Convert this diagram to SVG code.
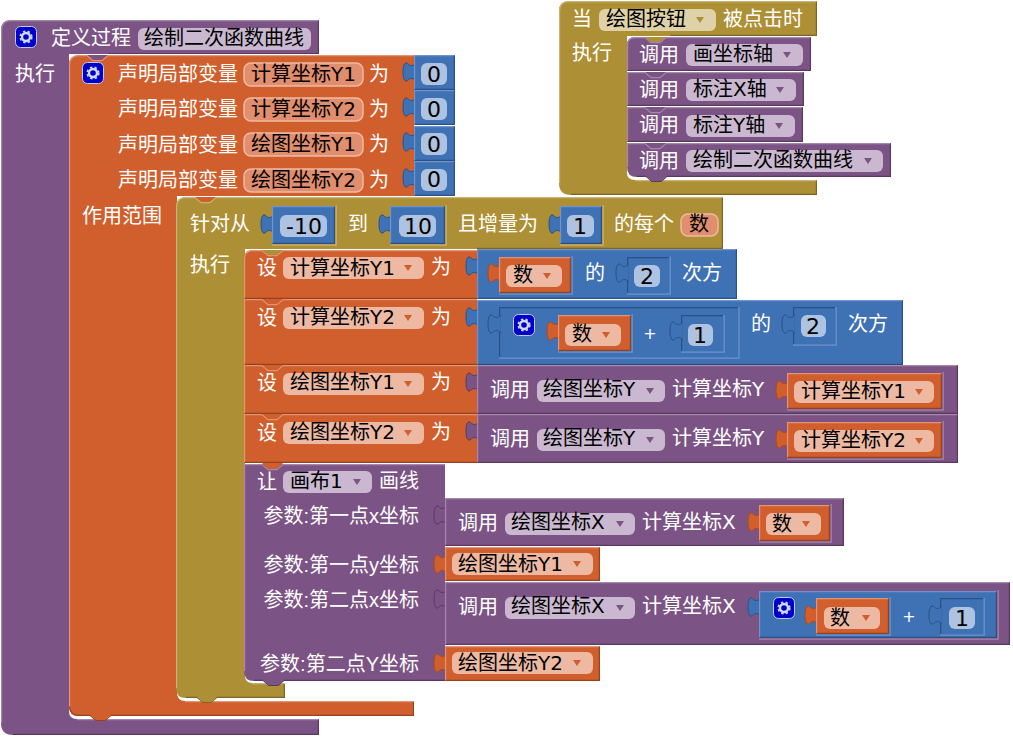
<svg xmlns="http://www.w3.org/2000/svg" width="1013" height="737" viewBox="0 0 1013 737">
<style>
text{font-family:"DejaVu Sans","Noto Sans CJK SC",sans-serif;font-size:20px}
.w{fill:#fff}.k{fill:#000}.e{text-anchor:end;font-family:"Liberation Sans","Noto Sans CJK SC",sans-serif}.c{text-anchor:middle}.n{font-size:22px}
.P{fill:#7C5385}.O{fill:#D05F2D}.G{fill:#AD8F35}.B{fill:#3F71B5}
.Pl,.Ol,.Gl,.Bl,.Pd,.Od,.Gd,.Bd{fill:none;stroke-width:1.2}
.Pl{stroke:#A488AC}.Ol{stroke:#E49273}.Gl{stroke:#C9B273}.Bl{stroke:#6F94CC}
.Pd{stroke:#59395F}.Od{stroke:#96421E}.Gd{stroke:#7D6625}.Bd{stroke:#2C5085}
.tP{fill:#7C5385;stroke:#59395F}.tO{fill:#D05F2D;stroke:#A9491F}.tB{fill:#3F71B5;stroke:#2C5085}
.fP{fill:#CAB8D0}.fO{fill:#EDB9A3}.fG{fill:#DFD2A8}.fB{fill:#AEC3E2}
.fi{fill:#E08E6D;stroke:#EFB9A3;stroke-width:1.5}
.ic{fill:#0000CC;stroke:#C3CBE2;stroke-width:1}
.gr{fill:none;stroke:#D3DCF2;stroke-width:2.4}.gd{fill:none;stroke:#D3DCF2;stroke-width:1.6;stroke-dasharray:2.4 2.3}
</style>
<defs>
<path id="tab" d="M1,0 V2 C-3,5 -5,3 -7,1 C-10,0 -11,5 -11,10 C-11,15 -10,20 -7,19 C-5,17 -3,15 1,18 V20"/>
<path id="nt" d="M0,0 L6,5 H15 L21,0 Z"/>
<polygon id="tri" points="-4,0 4,0 0,6"/>
<g id="gear"><rect class="ic" x="0.5" y="0.5" width="21" height="21" rx="5"/><circle class="gr" cx="11" cy="11" r="4"/><circle class="gd" cx="11" cy="11" r="5.8"/></g>
</defs>

<g id="proc-define">
<path class="P" d="M1,30 Q1,20 11,20 H319 V54 H69 V711 Q69,719 77,719 H319 V735 H13 Q1,735 1,723 Z"/>
<path class="Pl" d="M1.6,723 V30 Q1.6,20.6 11,20.6 H318.4 M77,719.6 H318"/>
<path class="Pd" d="M318.4,21 V53.5 H108 M318.4,720 V734.4 H13"/>
<use href="#gear" x="15" y="26"/>
<text class="w" x="51" y="45">定义过程</text>
<rect class="fP" x="138" y="28" width="173" height="22" rx="6"/>
<text class="k" x="144" y="45">绘制二次函数曲线</text>
<text class="w" x="15" y="81">执行</text>
</g>

<g id="local-decl">
<path class="O" d="M69,65 Q69,55 79,55 H414 V196 H177 V692 Q177,701 185,701 H414 V716 H79 Q69,716 69,706 Z"/>
<use href="#nt" class="P" x="87" y="55"/>
<path class="Ol" d="M69.6,706 V65 Q69.6,55.6 79,55.6 H87 L93,60.6 H102 L108,55.6 H414 M185,701.6 H414"/>
<path class="Od" d="M413.4,702 V715.4 H111 L105,720.4 H96 L90,715.4 H79 Q70,715.4 69.6,707"/>
<path class="O" d="M90,715 L96,720 H105 L111,715 Z"/>
<use href="#gear" x="82" y="62"/>
<text class="w" x="118" y="81">声明局部变量</text>
<text class="w" x="118" y="116">声明局部变量</text>
<text class="w" x="118" y="152">声明局部变量</text>
<text class="w" x="118" y="187">声明局部变量</text>
<rect class="fi" x="244" y="63" width="119" height="23" rx="7"/>
<rect class="fi" x="244" y="98" width="119" height="23" rx="7"/>
<rect class="fi" x="244" y="133" width="119" height="23" rx="7"/>
<rect class="fi" x="244" y="169" width="119" height="23" rx="7"/>
<text class="k" x="251" y="81">计算坐标Y1</text>
<text class="k" x="251" y="116">计算坐标Y2</text>
<text class="k" x="251" y="151">绘图坐标Y1</text>
<text class="k" x="251" y="187">绘图坐标Y2</text>
<text class="w" x="369" y="81">为</text>
<text class="w" x="369" y="116">为</text>
<text class="w" x="369" y="151">为</text>
<text class="w" x="369" y="187">为</text>
<text class="w" x="82" y="223">作用范围</text>
</g>

<g id="num-0-a"><use href="#tab" class="tB" x="414" y="62"/><rect class="B" x="414" y="55" width="41" height="35"/><path class="Bl" d="M414.6,89 V55.6 H454"/><path class="Bd" d="M454.4,56 V89.4 H415"/><rect class="fB" x="421" y="63" width="26" height="22" rx="6"/><text class="k c n" x="434" y="82">0</text></g>
<g id="num-0-b"><use href="#tab" class="tB" x="414" y="97"/><rect class="B" x="414" y="90" width="41" height="35"/><path class="Bl" d="M414.6,124 V90.6 H454"/><path class="Bd" d="M454.4,91 V124.4 H415"/><rect class="fB" x="421" y="98" width="26" height="22" rx="6"/><text class="k c n" x="434" y="117">0</text></g>
<g id="num-0-c"><use href="#tab" class="tB" x="414" y="132"/><rect class="B" x="414" y="126" width="41" height="35"/><path class="Bl" d="M414.6,160 V126.6 H454"/><path class="Bd" d="M454.4,127 V160.4 H415"/><rect class="fB" x="421" y="133" width="26" height="22" rx="6"/><text class="k c n" x="434" y="152">0</text></g>
<g id="num-0-d"><use href="#tab" class="tB" x="414" y="168"/><rect class="B" x="414" y="161" width="41" height="35"/><path class="Bl" d="M414.6,195 V161.6 H454"/><path class="Bd" d="M454.4,162 V195.4 H415"/><rect class="fB" x="421" y="169" width="26" height="22" rx="6"/><text class="k c n" x="434" y="187">0</text></g>

<g id="for-loop">
<path class="G" d="M176,207 Q176,197 186,197 H723 V249 H245 V675 Q245,683 252,683 H285 V698 H186 Q176,698 176,688 Z"/>
<use href="#nt" class="O" x="195" y="197"/>
<path class="Gl" d="M176.6,688 V207 Q176.6,197.6 186,197.6 H195 L201,202.6 H210 L216,197.6 H722.4 M252,683.6 H285"/>
<path class="Gd" d="M722.4,198 V248.4 H477 M284.4,684 V697.4 H217 L211,702.4 H203 L197,697.4 H186"/>
<path class="G" d="M197,697 L203,702 H211 L217,697 Z"/>
<text class="w" x="190" y="231">针对从</text>
<text class="w" x="348" y="231">到</text>
<text class="w" x="458" y="231">且增量为</text>
<text class="w" x="614" y="231">的每个</text>
<rect class="fi" x="681" y="214" width="37" height="22" rx="7"/>
<text class="k" x="689" y="231">数</text>
<text class="w" x="190" y="272">执行</text>
<use href="#tab" class="tB" x="272" y="214"/><rect class="B" x="272" y="206" width="63" height="38"/><path class="Bl" d="M272.6,243 V206.6 H334"/><path class="Bd" d="M334.4,207 V243.4 H273"/><path class="Gl" d="M336.2,205 V245.2 H272"/>
<rect class="fB" x="280" y="215" width="47" height="22" rx="6"/><text class="k c n" x="304" y="234">-10</text>
<use href="#tab" class="tB" x="390" y="214"/><rect class="B" x="390" y="206" width="55" height="38"/><path class="Bl" d="M390.6,243 V206.6 H444"/><path class="Bd" d="M444.4,207 V243.4 H391"/><path class="Gl" d="M446.2,205 V245.2 H390"/>
<rect class="fB" x="399" y="215" width="37" height="22" rx="6"/><text class="k c n" x="418" y="234">10</text>
<use href="#tab" class="tB" x="560" y="214"/><rect class="B" x="560" y="206" width="42" height="38"/><path class="Bl" d="M560.6,243 V206.6 H601"/><path class="Bd" d="M601.4,207 V243.4 H561"/><path class="Gl" d="M603.2,205 V245.2 H560"/>
<rect class="fB" x="567" y="215" width="27" height="22" rx="6"/><text class="k c n" x="580" y="234">1</text>
</g>

<g id="set-y1">
<path class="O" d="M244,259 Q244,250 253,250 H477 V299 H244 Z"/>
<use href="#nt" class="G" x="262" y="250"/>
<path class="Ol" d="M244.6,298 V259 Q244.6,250.6 253,250.6 H262 L268,255.6 H277 L283,250.6 H477"/>
<path class="Od" d="M245,298.4 H477"/>
<text class="w" x="257" y="275">设</text>
<rect class="fO" x="283" y="257" width="141" height="22" rx="6"/>
<text class="k" x="290" y="275">计算坐标Y1</text>
<use href="#tri" class="O" x="408" y="265"/>
<text class="w" x="431" y="274">为</text>
</g>
<g id="set-y2">
<path class="O" d="M244,299 H477 V365 H244 Z"/>
<path class="O" d="M262,299 L268,304 H277 L283,299 Z"/>
<path class="Ol" d="M244.6,364 V299.6 H262 L268,304.6 H277 L283,299.6 H477"/>
<path class="Od" d="M245,364.4 H477"/>
<text class="w" x="257" y="325">设</text>
<rect class="fO" x="283" y="307" width="141" height="22" rx="6"/>
<text class="k" x="290" y="324">计算坐标Y2</text>
<use href="#tri" class="O" x="408" y="315"/>
<text class="w" x="431" y="324">为</text>
</g>
<g id="set-dy1">
<path class="O" d="M244,365 H477 V414 H244 Z"/>
<path class="Ol" d="M244.6,413 V365.6 H262 L268,370.6 H277 L283,365.6 H477"/>
<path class="Od" d="M245,413.4 H477"/>
<text class="w" x="257" y="390">设</text>
<rect class="fO" x="283" y="373" width="141" height="22" rx="6"/>
<text class="k" x="290" y="389">绘图坐标Y1</text>
<use href="#tri" class="O" x="408" y="381"/>
<text class="w" x="431" y="389">为</text>
</g>
<g id="set-dy2">
<path class="O" d="M244,414 H477 V463 H244 Z"/>
<path class="Ol" d="M244.6,462 V414.6 H262 L268,419.6 H277 L283,414.6 H477"/>
<path class="Od" d="M245,462.4 H477"/>
<text class="w" x="257" y="440">设</text>
<rect class="fO" x="283" y="422" width="141" height="22" rx="6"/>
<text class="k" x="290" y="439">绘图坐标Y2</text>
<use href="#tri" class="O" x="408" y="430"/>
<text class="w" x="431" y="439">为</text>
</g>

<g id="power-1">
<use href="#tab" class="tB" x="477" y="256"/>
<rect class="B" x="477" y="249" width="260" height="50"/>
<path class="Bl" d="M477.6,298 V249.6 H736"/><path class="Bd" d="M736.4,250 V298.4 H478"/>
<use href="#tab" class="tO" x="499" y="263"/><rect class="O" x="499" y="257" width="72" height="36"/><path class="Ol" d="M499.6,292 V257.6 H570"/><path class="Od" d="M570.4,258 V292.4 H500"/><path class="Bl" d="M572.2,256 V294.2 H499"/>
<rect class="fO" x="506" y="265" width="56" height="22" rx="6"/><text class="k" x="513" y="282">数</text><use href="#tri" class="O" x="547" y="273"/>
<text class="w" x="585" y="280">的</text>
<path class="Bd" d="M627.6,293 V257.6 H669"/><path class="Bl" d="M670.2,256.5 V294.2 H627"/><use href="#tab" class="tB" x="627" y="263"/>
<rect class="fB" x="634" y="265" width="26" height="22" rx="6"/><text class="k c n" x="647" y="284">2</text>
<text class="w" x="682" y="280">次方</text>
</g>
<g id="power-2">
<use href="#tab" class="tB" x="477" y="307"/>
<rect class="B" x="477" y="300" width="426" height="65"/>
<path class="Bl" d="M477.6,364 V300.6 H902"/><path class="Bd" d="M902.4,301 V364.4 H478"/>
<path class="Bd" d="M499.6,357 V307.6 H738"/><path class="Bl" d="M739,307 V358.2 H499"/><use href="#tab" class="tB" x="499" y="314"/>
<use href="#gear" x="513" y="314"/>
<use href="#tab" class="tO" x="558" y="321"/><rect class="O" x="558" y="315" width="73" height="36"/><path class="Ol" d="M558.6,350 V315.6 H630"/><path class="Od" d="M630.4,316 V350.4 H559"/><path class="Bl" d="M632.2,314 V352.2 H558"/>
<rect class="fO" x="565" y="324" width="56" height="22" rx="6"/><text class="k" x="572" y="341">数</text><use href="#tri" class="O" x="606" y="332"/>
<text class="w c" x="650" y="339" style="font-size:16px">+</text>
<path class="Bd" d="M681.6,351 V315.6 H723"/><path class="Bl" d="M724.2,315 V352.2 H681"/><use href="#tab" class="tB" x="681" y="321"/>
<rect class="fB" x="688" y="324" width="25" height="22" rx="6"/><text class="k c n" x="700" y="343">1</text>
<text class="w" x="751" y="331">的</text>
<path class="Bd" d="M793.6,344 V307.6 H835"/><path class="Bl" d="M836.2,307 V345.2 H793"/><use href="#tab" class="tB" x="793" y="314"/>
<rect class="fB" x="801" y="315" width="25" height="22" rx="6"/><text class="k c n" x="813" y="334">2</text>
<text class="w" x="848" y="331">次方</text>
</g>
<g id="call-y1">
<use href="#tab" class="tP" x="477" y="372"/>
<rect class="P" x="477" y="365" width="481" height="49"/>
<path class="Pl" d="M477.6,413 V365.6 H957"/><path class="Pd" d="M957.4,366 V413.4 H478"/>
<text class="w" x="490" y="397">调用</text>
<rect class="fP" x="537" y="380" width="128" height="22" rx="6"/>
<text class="k" x="543" y="396">绘图坐标Y</text><use href="#tri" class="P" x="650" y="388"/>
<text class="w" x="672" y="396">计算坐标Y</text>
<use href="#tab" class="tO" x="787" y="380"/><rect class="O" x="787" y="373" width="155" height="36"/><path class="Ol" d="M787.6,408 V373.6 H941"/><path class="Od" d="M941.4,374 V408.4 H788"/><path class="Pl" d="M943.2,372 V410.2 H787"/>
<rect class="fO" x="794" y="381" width="140" height="22" rx="6"/>
<text class="k" x="801" y="398">计算坐标Y1</text><use href="#tri" class="O" x="919" y="389"/>
</g>
<g id="call-y2">
<use href="#tab" class="tP" x="477" y="421"/>
<rect class="P" x="477" y="414" width="481" height="49"/>
<path class="Pl" d="M477.6,462 V414.6 H957"/><path class="Pd" d="M957.4,415 V462.4 H478"/>
<text class="w" x="490" y="446">调用</text>
<rect class="fP" x="537" y="429" width="128" height="22" rx="6"/>
<text class="k" x="543" y="445">绘图坐标Y</text><use href="#tri" class="P" x="650" y="437"/>
<text class="w" x="672" y="445">计算坐标Y</text>
<use href="#tab" class="tO" x="787" y="429"/><rect class="O" x="787" y="422" width="155" height="36"/><path class="Ol" d="M787.6,457 V422.6 H941"/><path class="Od" d="M941.4,423 V457.4 H788"/><path class="Pl" d="M943.2,421 V459.2 H787"/>
<rect class="fO" x="794" y="430" width="140" height="22" rx="6"/>
<text class="k" x="801" y="447">计算坐标Y2</text><use href="#tri" class="O" x="919" y="438"/>
</g>

<g id="canvas-drawline">
<path class="P" d="M244,464 H445 V681 H254 Q244,681 244,671 Z"/>
<path class="O" d="M262,463 L268,469 H277 L283,463 Z"/>
<path class="Pl" d="M244.6,671 V464.6 H262 L268,469.6 H277 L283,464.6 H445"/>
<path class="Pd" d="M445,680.4 H284 L278,685.4 H269 L263,680.4 H254"/>
<path class="P" d="M263,680 L269,685 H278 L284,680 Z"/>
<text class="w" x="257" y="489">让</text>
<rect class="fP" x="283" y="471" width="89" height="22" rx="6"/>
<text class="k" x="290" y="488">画布1</text><use href="#tri" class="P" x="357" y="479"/>
<text class="w" x="379" y="488">画线</text>
<text class="w e" x="419" y="523">参数:第一点x坐标</text>
<text class="w e" x="419" y="572">参数:第一点y坐标</text>
<text class="w e" x="419" y="607">参数:第二点x坐标</text>
<text class="w e" x="419" y="671">参数:第二点Y坐标</text>
</g>

<g id="call-x1">
<use href="#tab" class="tP" x="445" y="505"/>
<rect class="P" x="445" y="498" width="399" height="48"/>
<path class="Pl" d="M445.6,545 V498.6 H843"/><path class="Pd" d="M843.4,499 V545.4 H446"/>
<text class="w" x="458" y="530">调用</text>
<rect class="fP" x="505" y="513" width="130" height="22" rx="6"/>
<text class="k" x="511" y="529">绘图坐标X</text><use href="#tri" class="P" x="620" y="521"/>
<text class="w" x="642" y="529">计算坐标X</text>
<use href="#tab" class="tO" x="759" y="512"/><rect class="O" x="759" y="505" width="71" height="36"/><path class="Ol" d="M759.6,540 V505.6 H829"/><path class="Od" d="M829.4,506 V540.4 H760"/><path class="Pl" d="M831.2,504 V542.2 H759"/>
<rect class="fO" x="766" y="513" width="55" height="22" rx="6"/>
<text class="k" x="772" y="531">数</text><use href="#tri" class="O" x="806" y="521"/>
</g>
<g id="get-dy1">
<use href="#tab" class="tO" x="445" y="554"/>
<rect class="O" x="445" y="547" width="155" height="34"/>
<path class="Ol" d="M445.6,580 V547.6 H599"/><path class="Od" d="M599.4,548 V580.4 H446"/>
<rect class="fO" x="452" y="553" width="141" height="22" rx="6"/>
<text class="k" x="458" y="571">绘图坐标Y1</text><use href="#tri" class="O" x="577" y="561"/>
</g>
<g id="call-x2">
<use href="#tab" class="tP" x="445" y="589"/>
<rect class="P" x="445" y="582" width="565" height="63"/>
<path class="Pl" d="M445.6,644 V582.6 H1009"/><path class="Pd" d="M1009.4,583 V644.4 H446"/>
<text class="w" x="458" y="614">调用</text>
<rect class="fP" x="505" y="597" width="130" height="22" rx="6"/>
<text class="k" x="511" y="613">绘图坐标X</text><use href="#tri" class="P" x="620" y="605"/>
<text class="w" x="642" y="613">计算坐标X</text>
<use href="#tab" class="tB" x="759" y="597"/><rect class="B" x="759" y="591" width="238" height="47"/><path class="Bl" d="M759.6,637 V591.6 H996"/><path class="Bd" d="M996.4,592 V637.4 H760"/><path class="Pl" d="M998.2,590 V639.2 H759"/>
<use href="#gear" x="773" y="597"/>
<use href="#tab" class="tO" x="816" y="605"/><rect class="O" x="816" y="598" width="73" height="36"/><path class="Ol" d="M816.6,633 V598.6 H888"/><path class="Od" d="M888.4,599 V633.4 H817"/><path class="Bl" d="M890.2,597 V635.2 H816"/>
<rect class="fO" x="824" y="607" width="56" height="22" rx="6"/>
<text class="k" x="830" y="625">数</text><use href="#tri" class="O" x="866" y="615"/>
<text class="w c" x="909" y="622" style="font-size:16px">+</text>
<path class="Bd" d="M940.6,634 V598.6 H983"/><path class="Bl" d="M984.2,598 V635.2 H940"/><use href="#tab" class="tB" x="940" y="605"/>
<rect class="fB" x="949" y="607" width="26" height="22" rx="6"/><text class="k c n" x="962" y="626">1</text>
</g>
<g id="get-dy2">
<use href="#tab" class="tO" x="445" y="653"/>
<rect class="O" x="445" y="646" width="155" height="35"/>
<path class="Ol" d="M445.6,680 V646.6 H599"/><path class="Od" d="M599.4,647 V680.4 H446"/>
<rect class="fO" x="452" y="652" width="141" height="22" rx="6"/>
<text class="k" x="458" y="670">绘图坐标Y2</text><use href="#tri" class="O" x="577" y="660"/>
</g>

<g id="when-click">
<path class="G" d="M559,11 Q559,1 569,1 H817 V36 H627 V173 Q627,180 635,180 H817 V195 H571 Q559,195 559,183 Z"/>
<path class="Gl" d="M559.6,183 V11 Q559.6,1.6 569,1.6 H816 M635,180.6 H816"/>
<path class="Gd" d="M816.4,2 V35.4 H670 M816.4,181 V194.4 H571"/>
<text class="w" x="572" y="26">当</text>
<rect class="fG" x="599" y="9" width="117" height="22" rx="6"/>
<text class="k" x="606" y="26">绘图按钮</text><use href="#tri" class="G" x="700" y="17"/>
<text class="w" x="723" y="26">被点击时</text>
<text class="w" x="572" y="60">执行</text>
</g>
<g id="call-axis">
<path class="P" d="M627,45 Q627,37 635,37 H811 V71 H627 Z"/>
<path class="G" d="M645,37 L651,42 H660 L666,37 Z"/>
<path class="Pl" d="M627.6,70 V45 Q627.6,37.6 635,37.6 H645 L651,42.6 H660 L666,37.6 H810"/><path class="Pd" d="M810.4,38 V70.4 H628"/>
<text class="w" x="639" y="62">调用</text>
<rect class="fP" x="686" y="44" width="117" height="22" rx="6"/>
<text class="k" x="693" y="61">画坐标轴</text><use href="#tri" class="P" x="787" y="52"/>
</g>
<g id="call-xaxis">
<path class="P" d="M627,72 H804 V106 H627 Z"/>
<path class="Pl" d="M627.6,105 V72.6 H645 L651,77.6 H660 L666,72.6 H803"/><path class="Pd" d="M803.4,73 V105.4 H628"/>
<text class="w" x="639" y="97">调用</text>
<rect class="fP" x="686" y="79" width="110" height="22" rx="6"/>
<text class="k" x="693" y="96">标注X轴</text><use href="#tri" class="P" x="780" y="87"/>
</g>
<g id="call-yaxis">
<path class="P" d="M627,107 H803 V142 H627 Z"/>
<path class="Pl" d="M627.6,141 V107.6 H645 L651,112.6 H660 L666,107.6 H802"/><path class="Pd" d="M802.4,108 V141.4 H628"/>
<text class="w" x="639" y="132">调用</text>
<rect class="fP" x="686" y="115" width="109" height="22" rx="6"/>
<text class="k" x="693" y="132">标注Y轴</text><use href="#tri" class="P" x="779" y="123"/>
</g>
<g id="call-curve">
<path class="P" d="M627,143 H891 V177 H637 Q627,177 627,167 Z"/>
<path class="Pl" d="M627.6,167 V143.6 H645 L651,148.6 H660 L666,143.6 H890"/>
<path class="Pd" d="M890.4,144 V176.4 H667 L661,181.4 H652 L646,176.4 H637"/>
<path class="P" d="M646,176 L652,181 H661 L667,176 Z"/>
<text class="w" x="639" y="168">调用</text>
<rect class="fP" x="686" y="150" width="197" height="22" rx="6"/>
<text class="k" x="693" y="167">绘制二次函数曲线</text><use href="#tri" class="P" x="868" y="158"/>
</g>
</svg>
